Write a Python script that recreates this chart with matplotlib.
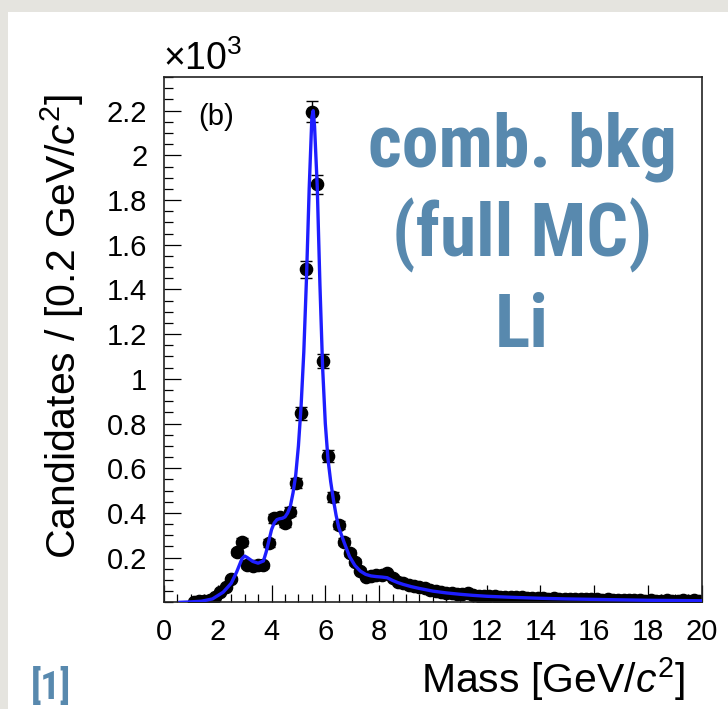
"""Combinatorial background mass spectrum (full MC, Li) with fit overlay."""

import matplotlib

matplotlib.use("Agg")
import matplotlib.pyplot as plt  # noqa: E402
import numpy as np  # noqa: E402
from matplotlib.patches import Rectangle  # noqa: E402
from matplotlib.ticker import FuncFormatter, MultipleLocator  # noqa: E402

W, H = 728, 709
SLIDE_BLUE = "#5889ae"
BG = "#e5e4df"
FIT_BLUE = "#1e1eff"

# histogram: 0.2 GeV bins from 1.0 to 20.0, candidates in units of 10^3
BIN_LO = 1.0
BIN_W = 0.2
counts = [
    0.002, 0.004, 0.006, 0.012, 0.025, 0.045, 0.070, 0.105, 0.225, 0.270,
    0.165, 0.162, 0.168, 0.165, 0.265, 0.375, 0.382, 0.355, 0.405, 0.535,
    0.845, 1.490, 2.195, 1.870, 1.080, 0.655, 0.470, 0.345, 0.272, 0.220,
    0.180, 0.142, 0.115, 0.118, 0.120, 0.122, 0.130, 0.110, 0.092, 0.085,
    0.078, 0.072, 0.068, 0.062, 0.055, 0.050, 0.046, 0.042, 0.040, 0.038,
    0.036, 0.042, 0.032, 0.030, 0.028, 0.027, 0.026, 0.024, 0.025, 0.023,
    0.022, 0.024, 0.020, 0.019, 0.020, 0.018, 0.017, 0.018, 0.016, 0.015,
    0.017, 0.014, 0.015, 0.013, 0.016, 0.014, 0.012, 0.013, 0.011, 0.012,
    0.010, 0.011, 0.009, 0.010, 0.008, 0.009, 0.007, 0.008, 0.009, 0.007,
    0.008, 0.010, 0.007, 0.009, 0.008,
]

# fit curve
fit_x = [
    0.6, 1.0, 1.4, 1.8, 2.2, 2.5, 2.7, 2.9, 3.0, 3.1, 3.3, 3.5, 3.7, 3.8,
    3.9, 4.0, 4.1, 4.2, 4.3, 4.4, 4.5, 4.6, 4.7, 4.8, 4.9, 5.0, 5.1, 5.2,
    5.3, 5.4, 5.5, 5.55, 5.6, 5.7, 5.8, 5.9, 6.0, 6.1, 6.2, 6.3, 6.4, 6.5,
    6.7, 6.9, 7.1, 7.3, 7.5, 7.7, 7.9, 8.1, 8.3, 8.5, 8.7, 8.9, 9.2, 9.5,
    10.0, 10.5, 11.0, 11.5, 12.0, 13.0, 14.0, 15.0, 16.0, 17.0, 18.0, 19.0,
    20.0,
]
fit_y = [
    0.000, 0.002, 0.005, 0.015, 0.045, 0.085, 0.135, 0.195, 0.207, 0.200,
    0.183, 0.175, 0.185, 0.225, 0.275, 0.325, 0.355, 0.370, 0.374, 0.376,
    0.382, 0.400, 0.430, 0.490, 0.570, 0.700, 0.880, 1.120, 1.450, 1.850,
    2.170, 2.200, 2.130, 1.860, 1.420, 1.050, 0.800, 0.640, 0.540, 0.460,
    0.390, 0.335, 0.268, 0.205, 0.165, 0.140, 0.125, 0.118, 0.115, 0.113,
    0.110, 0.098, 0.088, 0.080, 0.070, 0.062, 0.050, 0.042, 0.036, 0.031,
    0.027, 0.022, 0.018, 0.015, 0.013, 0.011, 0.009, 0.008, 0.007,
]

y_ticks = [0.2, 0.4, 0.6, 0.8, 1.0, 1.2, 1.4, 1.6, 1.8, 2.0, 2.2]
x_ticks = [0, 2, 4, 6, 8, 10, 12, 14, 16, 18, 20]

plt.rcParams.update({
    "font.family": ["Liberation Sans", "DejaVu Sans"],
    "mathtext.fontset": "custom",
    "mathtext.rm": "Liberation Sans",
    "mathtext.it": "Liberation Sans:italic",
    "mathtext.bf": "Liberation Sans:bold",
})
TITLE_FONT = ["Liberation Sans Narrow", "Roboto Condensed",
              "DejaVu Sans Condensed", "Roboto", "DejaVu Sans"]


def px(x, y):
    """pixel position (from top-left) to figure fraction"""
    return x / W, 1 - y / H


fig = plt.figure(figsize=(W / 100, H / 100), dpi=100)
fig.patch.set_facecolor(BG)
# white slide panel, kept behind the axes
panel = Rectangle(px(8, H), 1, 1 - 12 / H, transform=fig.transFigure,
                  facecolor="white", edgecolor="none", zorder=-10)
fig.add_artist(panel)

ax = fig.add_axes([164 / W, 1 - 602.3 / H, (701.7 - 164) / W, (602.3 - 76.7) / H])
ax.set_zorder(1)

counts = np.array(counts)
centers = BIN_LO + BIN_W * (np.arange(len(counts)) + 0.5)
errs = np.sqrt(counts * 1000) / 1000

ax.errorbar(centers, counts, yerr=errs, fmt="o", color="black", ms=8.8,
            elinewidth=1.0, capsize=4, capthick=1.0, zorder=2)
ax.plot(fit_x, fit_y, color=FIT_BLUE, lw=2.4, zorder=3)

ax.set_xlim(0, 20)
ax.set_ylim(0, 2.352)
ax.set_xticks(x_ticks)
ax.set_yticks(y_ticks)
ax.xaxis.set_minor_locator(MultipleLocator(0.5))
ax.yaxis.set_minor_locator(MultipleLocator(0.05))
ax.yaxis.set_major_formatter(FuncFormatter(lambda v, _: f"{v:g}"))
ax.tick_params(which="both", direction="in", top=False, right=False,
               width=0.9, colors="black", labelsize=21)
ax.tick_params(axis="y", which="major", length=12.5, pad=12)
ax.tick_params(axis="y", which="minor", length=6.5)
ax.tick_params(axis="x", which="major", length=12.5, pad=11)
ax.tick_params(axis="x", which="minor", length=6)
for s in ax.spines.values():
    s.set_linewidth(1.2)
    s.set_color("#222222")
ax.set_facecolor("white")

ax.text(1.93, 2.17, "(b)", fontsize=21, ha="center", va="center")

fig.text(*px(163, 70), r"$\times10^{3}$", fontsize=27, ha="left", va="baseline")
fig.text(*px(685, 693), r"Mass [GeV/$c^{2}$]", fontsize=29.5, ha="right",
         va="baseline")
fig.text(*px(62, 94), r"Candidates / [0.2 GeV/$c^{2}$]", fontsize=29.5,
         rotation=90, ha="center", va="top")

for label, base in [("comb. bkg", 166), ("(full MC)", 256), ("Li", 347)]:
    fig.text(*px(522, base), label, fontsize=53, fontweight="bold",
             family=TITLE_FONT, color=SLIDE_BLUE, ha="center", va="baseline")
fig.text(*px(51, 699), "[1]", fontsize=28, fontweight="bold",
         family=TITLE_FONT, color=SLIDE_BLUE, ha="center", va="baseline")

fig.savefig("out.png", dpi=100, facecolor=fig.get_facecolor())
